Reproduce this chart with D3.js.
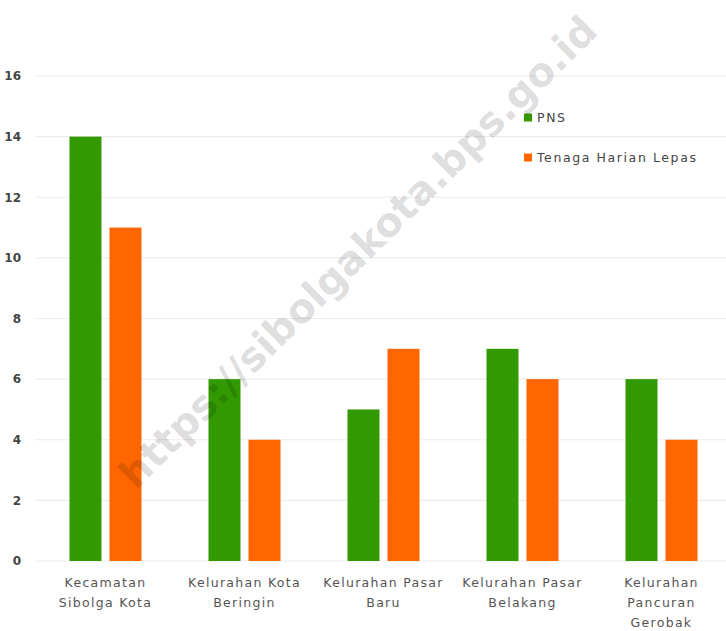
<!DOCTYPE html>
<html><head><meta charset="utf-8">
<script src="https://cdn.jsdelivr.net/npm/d3@7"></script>
<style>body{margin:0;background:#fff;}svg{display:block;font-family:"DejaVu Sans",sans-serif;}</style>
</head><body>
<svg id="c" width="726" height="631"></svg>
<script>
const categories = [["Kecamatan","Sibolga Kota"],["Kelurahan Kota","Beringin"],["Kelurahan Pasar","Baru"],["Kelurahan Pasar","Belakang"],["Kelurahan","Pancuran","Gerobak"]];
const seriesNames = ["PNS","Tenaga Harian Lepas"];
const pns = [14,6,5,7,6];
const thl = [11,4,7,6,4];
const yTicks = [0,2,4,6,8,10,12,14,16];
const colors = ["#339900","#ff6600"];

const svg = d3.select("#c");
const y = d3.scaleLinear().domain([0,16]).range([561,76]);
const x0 = d3.scaleBand().domain(d3.range(categories.length)).range([36,731]).padding(0);
const x1 = d3.scaleBand().domain(seriesNames).range([-36,36]).paddingInner(0.2).paddingOuter(0);

// gridlines
svg.append("g").selectAll("line").data(yTicks).join("line")
  .attr("x1",35).attr("x2",726).attr("y1",d=>y(d)).attr("y2",d=>y(d))
  .attr("stroke","#ececec").attr("stroke-width",1.2);

// y labels
const yAxis = d3.axisLeft(y).tickValues(yTicks).tickSize(0).tickPadding(0);
const ya = svg.append("g").attr("transform","translate(21,0)").call(yAxis);
ya.select(".domain").remove();
ya.selectAll("text").attr("font-size",12).attr("font-weight","bold").attr("fill","#444").attr("font-family","'DejaVu Sans',sans-serif");

// bars
const data = [pns, thl];
const g = svg.append("g");
categories.forEach((c,i)=>{
  const cx = x0(i) + x0.bandwidth()/2;
  seriesNames.forEach((s,k)=>{
    g.append("rect").attr("x",cx + x1(s)).attr("width",x1.bandwidth())
      .attr("y",y(data[k][i])).attr("height",y(0)-y(data[k][i])).attr("fill",colors[k]);
  });
});

// x labels
const xl = svg.append("g");
categories.forEach((c,i)=>{
  const cx = x0(i) + x0.bandwidth()/2;
  const t = xl.append("text").attr("x",cx).attr("y",587).attr("text-anchor","middle")
    .attr("font-size",12.5).attr("letter-spacing",1.3).attr("fill","#555");
  c.forEach((ln,j)=>t.append("tspan").attr("x",cx).attr("dy",j?20:0).text(ln));
});

// legend
const lg = svg.append("g");
seriesNames.forEach((s,k)=>{
  const ly = 117.5 + k*40;
  lg.append("rect").attr("x",524).attr("y",ly-4).attr("width",8).attr("height",8).attr("fill",colors[k]);
  lg.append("text").attr("x",537).attr("y",ly+4.5).attr("font-size",12.5).attr("letter-spacing",1.6).attr("fill","#444").text(s);
});

// watermark
svg.append("text").attr("transform","translate(360,254) rotate(-44.6)")
  .attr("text-anchor","middle").attr("dominant-baseline","middle")
  .attr("font-size",40).attr("font-weight","bold").attr("fill","rgba(0,0,0,0.14)")
  .attr("font-family","'DejaVu Sans',sans-serif")
  .text("https://sibolgakota.bps.go.id");
</script>
</body></html>
